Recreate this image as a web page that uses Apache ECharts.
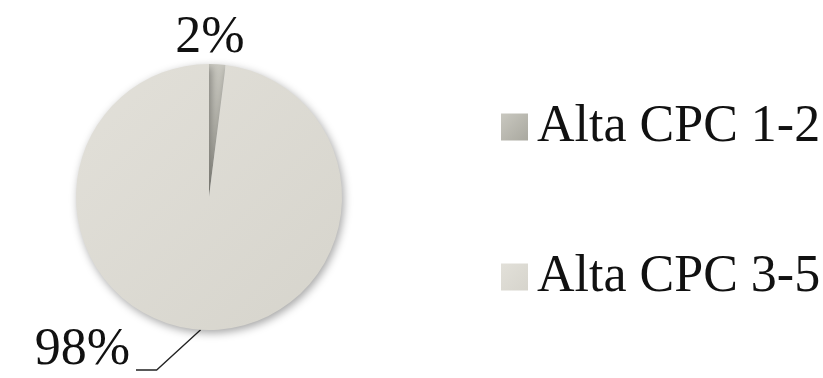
<!DOCTYPE html>
<html>
<head>
<meta charset="utf-8">
<script src="https://cdn.jsdelivr.net/npm/echarts@6/dist/echarts.min.js"></script>
<style>
  html, body { margin: 0; padding: 0; background: #ffffff; }
  #chart { width: 823px; height: 378px; }
</style>
</head>
<body>
<div id="chart"></div>
<script>
// Share of each CPC band
const categories = ['Alta CPC 1-2', 'Alta CPC 3-5'];
const shares = [2, 98];
const sliceColors = [
  ['#c9c8c0', '#a9a89f'],
  ['#e2e0d9', '#d6d4cc']
];

const FONT = '"Liberation Serif", "DejaVu Serif", serif';

const chart = echarts.init(document.getElementById('chart'), null, { renderer: 'canvas' });

const data = categories.map((name, i) => ({
  name,
  value: shares[i],
  itemStyle: {
    color: new echarts.graphic.LinearGradient(0, 0, 1, 1, [
      { offset: 0, color: sliceColors[i][0] },
      { offset: 1, color: sliceColors[i][1] }
    ])
  },
  // only the large slice gets a leader line
  labelLine: { show: i === 1 }
}));

chart.setOption({
  animation: false,
  backgroundColor: '#ffffff',
  legend: {
    orient: 'vertical',
    left: 496,
    top: 96,
    itemWidth: 27,
    itemHeight: 27,
    itemGap: 98,
    icon: 'rect',
    selectedMode: false,
    textStyle: { fontFamily: FONT, fontSize: 52, color: '#111111', padding: [0, 0, 0, 4] },
    data: categories
  },
  series: [{
    type: 'pie',
    center: [209, 197],
    radius: 133,
    startAngle: 90,
    clockwise: true,
    silent: true,
    itemStyle: {
      shadowBlur: 8,
      shadowOffsetX: 2,
      shadowOffsetY: 3,
      shadowColor: 'rgba(0,0,0,0.35)'
    },
    label: {
      show: true,
      position: 'outside',
      formatter: '{c}%',
      fontFamily: FONT,
      fontSize: 52,
      color: '#111111'
    },
    labelLine: {
      show: true,
      lineStyle: { color: '#222222', width: 1.3 }
    },
    labelLayout: function (p) {
      if (p.dataIndex === 0) {
        return { x: 210, y: 38, align: 'center', verticalAlign: 'middle' };
      }
      // elbow leader: from the pie edge down-left, then a short horizontal run
      const start = p.labelLinePoints ? p.labelLinePoints[0] : [204, 330];
      return {
        x: 130, y: 350, align: 'right', verticalAlign: 'middle',
        labelLinePoints: [start, [start[0] - 44, 370], [136, 370]]
      };
    },
    data: data
  }]
});
</script>
</body>
</html>
